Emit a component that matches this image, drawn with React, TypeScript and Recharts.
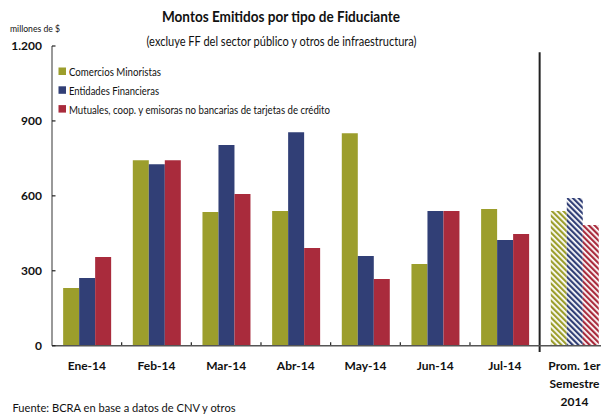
import React from 'react';
import { BarChart, Bar, XAxis, YAxis, ReferenceLine, Cell } from 'recharts';

const categories = ['Ene-14', 'Feb-14', 'Mar-14', 'Abr-14', 'May-14', 'Jun-14', 'Jul-14', 'Prom. 1er\nSemestre\n2014'];
const comercios = [231, 743, 535, 539, 851, 327, 547, 539];
const entidades = [271, 727, 804, 855, 359, 539, 423, 591];
const mutuales = [355, 743, 607, 391, 267, 539, 447, 483];
const yTicks = [0, 300, 600, 900, 1200];
const yTickLabels = ['0', '300', '600', '900', '1.200'];

const seriesNames = ['Comercios Minoristas', 'Entidades Financieras', 'Mutuales, coop. y emisoras no bancarias de tarjetas de crédito'];
const legendWidths = [92, 90, 261];
const colors = ['#9C9E2C', '#313F76', '#A92B3C'];
const patternIds = ['hatchOlive', 'hatchBlue', 'hatchRed'];

const data = categories.map((c, i) => ({
  cat: c,
  comercios: comercios[i],
  entidades: entidades[i],
  mutuales: mutuales[i],
}));

const FONT = 'Lato, "Noto Sans", sans-serif';
const LAST = categories[categories.length - 1];

const XTick = (props: any) => {
  const { x, y, payload } = props;
  const lines = String(payload.value).split('\n');
  return (
    <g>
      <text x={x} y={y + 18} textAnchor="middle" fontFamily={FONT} fontWeight="bold" fontSize={12} fill="#111">
        {lines.map((l, i) => (
          <tspan key={i} x={x} dy={i === 0 ? 0 : 18}>{l}</tspan>
        ))}
      </text>
    </g>
  );
};

const YTick = (props: any) => {
  const { x, y, payload } = props;
  const idx = yTicks.indexOf(payload.value);
  return (
    <g>
      <line x1={x + 10} x2={x + 13.5} y1={y} y2={y} stroke="#222" strokeWidth={1.2} />
      <text x={x} y={y + 4} textAnchor="end" fontFamily={FONT} fontWeight="bold" fontSize={12} fill="#111">
        {yTickLabels[idx]}
      </text>
    </g>
  );
};

const keys = ['comercios', 'entidades', 'mutuales'];

export default function App() {
  return (
    <div style={{ position: 'absolute', left: 0, top: 0, width: 601, height: 417, overflow: 'hidden', background: '#fff' }}>
      <svg width={601} height={417} style={{ position: 'absolute', left: 0, top: 0 }}>
        <text x={281} y={22} textAnchor="middle" fontFamily={FONT} fontWeight="bold" fontSize={15} fill="#111"
          textLength={238} lengthAdjust="spacingAndGlyphs">
          Montos Emitidos por tipo de Fiduciante
        </text>
        <text x={281.5} y={46} textAnchor="middle" fontFamily={FONT} fontSize={13} fill="#111"
          textLength={270} lengthAdjust="spacingAndGlyphs">
          (excluye FF del sector público y otros de infraestructura)
        </text>
        <text x={10} y={32} fontFamily={FONT} fontSize={10} fill="#111" textLength={50} lengthAdjust="spacingAndGlyphs">millones de $</text>
        <text x={12.5} y={412} fontFamily={FONT} fontSize={11.5} fill="#111" textLength={223} lengthAdjust="spacingAndGlyphs">Fuente: BCRA en base a datos de CNV y otros</text>
        {seriesNames.map((n, i) => (
          <g key={n}>
            <rect x={58.5} y={67.5 + i * 18.8} width={7.5} height={7.5} fill={colors[i]} />
            <text x={69} y={76 + i * 18.8} fontFamily={FONT} fontSize={12} fill="#111"
              textLength={legendWidths[i]} lengthAdjust="spacingAndGlyphs">{n}</text>
          </g>
        ))}
      </svg>
      <div style={{ position: 'absolute', left: 0, top: 0 }}>
        <BarChart
          width={620}
          height={417}
          data={data}
          margin={{ top: 46, right: 10.7, bottom: 41.3, left: 0 }}
          barCategoryGap="16%"
          barGap={0}
        >
          <defs>
            {patternIds.map((id, i) => (
              <pattern key={id} id={id} width={4} height={4} patternUnits="userSpaceOnUse" patternTransform="rotate(-45)">
                <rect x={0} y={0} width={4} height={4} fill="#fff" />
                <rect x={0} y={0} width={2.2} height={4} fill={colors[i]} />
              </pattern>
            ))}
          </defs>
          <XAxis
            dataKey="cat"
            interval={0}
            height={30}
            tickLine={false}
            tick={<XTick />}
            tickMargin={0}
            axisLine={{ stroke: '#555', strokeWidth: 1.5 }}
          />
          <YAxis
            domain={[0, 1200]}
            ticks={yTicks}
            width={52}
            tickLine={false}
            tickSize={0}
            tickMargin={10}
            tick={<YTick />}
            axisLine={{ stroke: '#555', strokeWidth: 1.2 }}
            allowDataOverflow
          />
          {keys.map((k, i) => (
            <Bar key={k} dataKey={k} name={seriesNames[i]} fill={colors[i]} isAnimationActive={false}>
              {data.map((d, j) => (
                <Cell key={j} fill={d.cat === LAST ? `url(#${patternIds[i]})` : colors[i]} />
              ))}
            </Bar>
          ))}
          {categories.slice(1, 7).map((c) => (
            <ReferenceLine
              key={c}
              segment={[{ x: c, y: 0 }, { x: c, y: 14 }]}
              position="start"
              stroke="#222"
              strokeWidth={1.2}
              ifOverflow="visible"
            />
          ))}
          <ReferenceLine
            segment={[{ x: LAST, y: -25 }, { x: LAST, y: 1175 }]}
            position="start"
            stroke="#222"
            strokeWidth={2}
            ifOverflow="visible"
          />
        </BarChart>
      </div>
    </div>
  );
}
